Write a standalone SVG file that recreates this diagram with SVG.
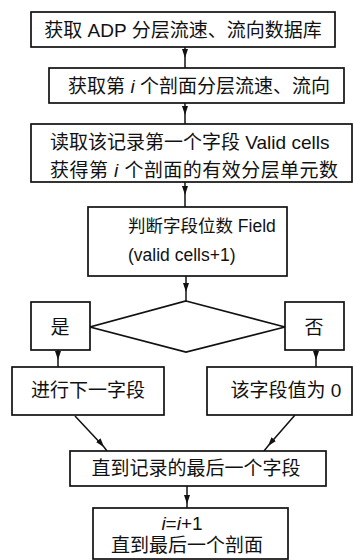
<svg xmlns="http://www.w3.org/2000/svg" width="354" height="560" viewBox="0 0 354 560">
<defs>
<style>
.b{fill:#fff;stroke:#111;stroke-width:1.7}
.t{font-family:"Liberation Sans","Noto Sans CJK SC",sans-serif;font-size:19px;fill:#111}
.s{font-size:17.5px}
.c{stroke:#111;stroke-width:1.5;fill:none;marker-mid:url(#ah)}
.it{font-style:italic}
</style>
<marker id="ah" markerUnits="userSpaceOnUse" markerWidth="10" markerHeight="8" refX="9" refY="3.5" orient="auto">
<path d="M0,0.5 L9,3.5 L0,6.5 z" fill="#111"/>
</marker>
</defs>
<rect width="354" height="560" fill="#fff"/>
<g id="connectors">
<path class="c" d="M185,47 L185,58 L185,68"/>
<path class="c" d="M185,103 L185,115 L185,124"/>
<path class="c" d="M185,182 L185,195 L185,207"/>
<path class="c" d="M186,276 L186,292 L186,301"/>
<path class="c" d="M58,350 L58,360 L58,367"/>
<path class="c" d="M316,350 L316,360 L316,367"/>
<path class="c" d="M75,416 L104,447 L107,451"/>
<path class="c" d="M295,415 L268,446 L264,451"/>
<path class="c" d="M187,486 L187,504 L187,508"/>
</g>
<g id="n1"><rect class="b" x="31" y="12" width="304" height="35"/><text class="t" x="183" y="37" text-anchor="middle">获取 ADP 分层流速、流向数据库</text></g>
<g id="n2"><rect class="b" x="49" y="68" width="295" height="35"/><text class="t" x="199" y="93" text-anchor="middle">获取第 <tspan class="it">i</tspan> 个剖面分层流速、流向</text></g>
<g id="n3"><rect class="b" x="31" y="124" width="321" height="58"/><text class="t" x="50" y="149">读取该记录第一个字段 Valid cells</text><text class="t" x="50" y="177" textLength="288">获得第 <tspan class="it">i</tspan> 个剖面的有效分层单元数</text></g>
<g id="n4"><rect class="b" x="88" y="207" width="199" height="69"/><text class="t s" x="128" y="232">判断字段位数 Field</text><text class="t s" x="128" y="261">(valid cells+1)</text></g>
<g id="n5"><polygon class="b" points="186,301 285,327 186,352 90,327"/></g>
<g id="n6"><rect class="b" x="31" y="302" width="59" height="48"/><text class="t" x="60" y="334" text-anchor="middle">是</text></g>
<g id="n7"><rect class="b" x="285" y="302" width="59" height="48"/><text class="t" x="314" y="334" text-anchor="middle">否</text></g>
<g id="n8"><rect class="b" x="12" y="367" width="152" height="48"/><text class="t" x="88" y="397" text-anchor="middle">进行下一字段</text></g>
<g id="n9"><rect class="b" x="207" y="367" width="145" height="48"/><text class="t" x="286" y="397" text-anchor="middle">该字段值为 0</text></g>
<g id="n10"><rect class="b" x="70" y="451" width="256" height="35"/><text class="t" x="196" y="475" text-anchor="middle">直到记录的最后一个字段</text></g>
<g id="n11"><rect class="b" x="93" y="508" width="195" height="51"/><text class="t" x="182" y="530" text-anchor="middle"><tspan class="it">i</tspan>=<tspan class="it">i</tspan>+1</text><text class="t" x="187" y="552" text-anchor="middle">直到最后一个剖面</text></g>
</svg>
